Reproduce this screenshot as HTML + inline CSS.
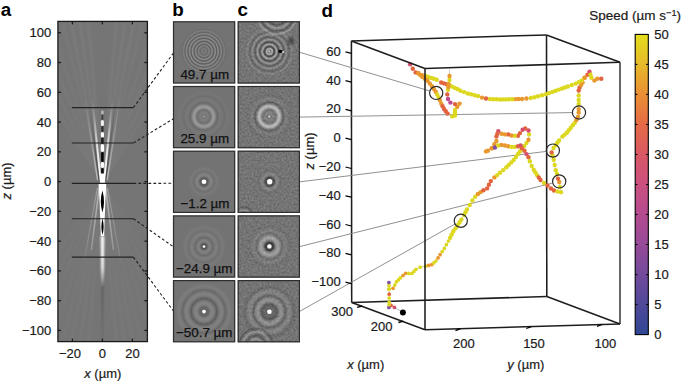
<!DOCTYPE html>
<html><head><meta charset="utf-8"><style>
html,body{margin:0;padding:0;background:#fff;width:685px;height:382px;overflow:hidden}
svg{display:block}
</style></head><body>
<svg width="685" height="382" viewBox="0 0 685 382">
<defs>
<filter id="blur1" x="-50%" y="-50%" width="200%" height="200%"><feGaussianBlur stdDeviation="0.8"/></filter>
<filter id="blur2" x="-50%" y="-50%" width="200%" height="200%"><feGaussianBlur stdDeviation="1.2"/></filter>
<filter id="blur05" x="-50%" y="-50%" width="200%" height="200%"><feGaussianBlur stdDeviation="0.5"/></filter>
<clipPath id="clipA"><rect x="57.9" y="21.4" width="89.5" height="320.2"/></clipPath>
<linearGradient id="vfade" gradientUnits="userSpaceOnUse" x1="0" y1="183" x2="0" y2="100"><stop offset="0" stop-color="#fff" stop-opacity="1"/><stop offset="0.4" stop-color="#fff" stop-opacity="0.8"/><stop offset="0.82" stop-color="#fff" stop-opacity="0.2"/><stop offset="1" stop-color="#fff" stop-opacity="0"/></linearGradient>
<linearGradient id="vfade2" gradientUnits="userSpaceOnUse" x1="0" y1="183" x2="0" y2="100"><stop offset="0" stop-color="#fff" stop-opacity="0.5"/><stop offset="1" stop-color="#fff" stop-opacity="0.03"/></linearGradient>
<linearGradient id="dfade" gradientUnits="userSpaceOnUse" x1="0" y1="183" x2="0" y2="100"><stop offset="0" stop-color="#000" stop-opacity="0.45"/><stop offset="1" stop-color="#000" stop-opacity="0.0"/></linearGradient>
<linearGradient id="dnfade" gradientUnits="userSpaceOnUse" x1="0" y1="183" x2="0" y2="300"><stop offset="0" stop-color="#fff" stop-opacity="0.5"/><stop offset="1" stop-color="#fff" stop-opacity="0.0"/></linearGradient>
<filter id="noise" x="0" y="0" width="100%" height="100%" color-interpolation-filters="sRGB"><feTurbulence type="fractalNoise" baseFrequency="0.5" numOctaves="2" seed="7"/><feGaussianBlur stdDeviation="0.45"/><feColorMatrix type="matrix" values="1 0 0 0 0  1 0 0 0 0  1 0 0 0 0  0 0 0 0 0.22"/></filter>
<filter id="tb" x="-20%" y="-20%" width="140%" height="140%"><feGaussianBlur stdDeviation="0.7"/></filter>
<filter id="tbr" x="-20%" y="-20%" width="140%" height="140%"><feGaussianBlur stdDeviation="0.9"/></filter>
<filter id="b06" x="-20%" y="-20%" width="140%" height="140%"><feGaussianBlur stdDeviation="0.62"/></filter>
<filter id="tb2" x="-20%" y="-20%" width="140%" height="140%"><feGaussianBlur stdDeviation="1.1"/></filter>
<clipPath id="ct00"><rect x="173.0" y="21.3" width="62.2" height="62.2"/></clipPath>
<clipPath id="ct01"><rect x="237.7" y="21.3" width="62.2" height="62.2"/></clipPath>
<clipPath id="ct10"><rect x="173.0" y="86.0" width="62.2" height="62.2"/></clipPath>
<clipPath id="ct11"><rect x="237.7" y="86.0" width="62.2" height="62.2"/></clipPath>
<clipPath id="ct20"><rect x="173.0" y="150.7" width="62.2" height="62.2"/></clipPath>
<clipPath id="ct21"><rect x="237.7" y="150.7" width="62.2" height="62.2"/></clipPath>
<clipPath id="ct30"><rect x="173.0" y="215.4" width="62.2" height="62.2"/></clipPath>
<clipPath id="ct31"><rect x="237.7" y="215.4" width="62.2" height="62.2"/></clipPath>
<clipPath id="ct40"><rect x="173.0" y="280.1" width="62.2" height="62.2"/></clipPath>
<clipPath id="ct41"><rect x="237.7" y="280.1" width="62.2" height="62.2"/></clipPath>
<linearGradient id="cbg" x1="0" y1="0" x2="0" y2="1"><stop offset="0" stop-color="#e4de1c"/><stop offset="0.1" stop-color="#e7b92a"/><stop offset="0.2" stop-color="#ea8f34"/><stop offset="0.3" stop-color="#e56a45"/><stop offset="0.4" stop-color="#d95865"/><stop offset="0.5" stop-color="#cc5080"/><stop offset="0.6" stop-color="#b44b8f"/><stop offset="0.7" stop-color="#974a99"/><stop offset="0.8" stop-color="#734a9c"/><stop offset="0.9" stop-color="#504999"/><stop offset="1.0" stop-color="#2f4795"/></linearGradient>
</defs>
<rect width="685" height="382" fill="#fff"/>
<g clip-path="url(#clipA)">
<rect x="57.9" y="21.4" width="89.5" height="320.2" fill="#757575"/>
<g filter="url(#blur1)"><line x1="102.4" y1="183.0" x2="87.5" y2="13.0" stroke="#fff" stroke-opacity="0.09" stroke-width="1.3"/><line x1="102.4" y1="183.0" x2="87.5" y2="353.0" stroke="#fff" stroke-opacity="0.05" stroke-width="1.3"/><line x1="102.4" y1="183.0" x2="117.3" y2="13.0" stroke="#fff" stroke-opacity="0.09" stroke-width="1.3"/><line x1="102.4" y1="183.0" x2="117.3" y2="353.0" stroke="#fff" stroke-opacity="0.05" stroke-width="1.3"/><line x1="102.4" y1="183.0" x2="78.5" y2="13.0" stroke="#fff" stroke-opacity="0.09" stroke-width="1.3"/><line x1="102.4" y1="183.0" x2="78.5" y2="353.0" stroke="#fff" stroke-opacity="0.05" stroke-width="1.3"/><line x1="102.4" y1="183.0" x2="126.3" y2="13.0" stroke="#fff" stroke-opacity="0.09" stroke-width="1.3"/><line x1="102.4" y1="183.0" x2="126.3" y2="353.0" stroke="#fff" stroke-opacity="0.05" stroke-width="1.3"/><line x1="102.4" y1="183.0" x2="69.4" y2="13.0" stroke="#fff" stroke-opacity="0.09" stroke-width="1.3"/><line x1="102.4" y1="183.0" x2="69.4" y2="353.0" stroke="#fff" stroke-opacity="0.05" stroke-width="1.3"/><line x1="102.4" y1="183.0" x2="135.4" y2="13.0" stroke="#fff" stroke-opacity="0.09" stroke-width="1.3"/><line x1="102.4" y1="183.0" x2="135.4" y2="353.0" stroke="#fff" stroke-opacity="0.05" stroke-width="1.3"/><line x1="102.4" y1="183.0" x2="60.0" y2="13.0" stroke="#fff" stroke-opacity="0.06" stroke-width="1.3"/><line x1="102.4" y1="183.0" x2="60.0" y2="353.0" stroke="#fff" stroke-opacity="0.04" stroke-width="1.3"/><line x1="102.4" y1="183.0" x2="144.8" y2="13.0" stroke="#fff" stroke-opacity="0.06" stroke-width="1.3"/><line x1="102.4" y1="183.0" x2="144.8" y2="353.0" stroke="#fff" stroke-opacity="0.04" stroke-width="1.3"/><line x1="102.4" y1="183.0" x2="47.2" y2="13.0" stroke="#fff" stroke-opacity="0.06" stroke-width="1.3"/><line x1="102.4" y1="183.0" x2="47.2" y2="353.0" stroke="#fff" stroke-opacity="0.04" stroke-width="1.3"/><line x1="102.4" y1="183.0" x2="157.6" y2="13.0" stroke="#fff" stroke-opacity="0.06" stroke-width="1.3"/><line x1="102.4" y1="183.0" x2="157.6" y2="353.0" stroke="#fff" stroke-opacity="0.04" stroke-width="1.3"/><line x1="102.4" y1="183.0" x2="33.7" y2="13.0" stroke="#fff" stroke-opacity="0.06" stroke-width="1.3"/><line x1="102.4" y1="183.0" x2="33.7" y2="353.0" stroke="#fff" stroke-opacity="0.04" stroke-width="1.3"/><line x1="102.4" y1="183.0" x2="171.1" y2="13.0" stroke="#fff" stroke-opacity="0.06" stroke-width="1.3"/><line x1="102.4" y1="183.0" x2="171.1" y2="353.0" stroke="#fff" stroke-opacity="0.04" stroke-width="1.3"/><line x1="102.4" y1="183.0" x2="15.8" y2="13.0" stroke="#fff" stroke-opacity="0.06" stroke-width="1.3"/><line x1="102.4" y1="183.0" x2="15.8" y2="353.0" stroke="#fff" stroke-opacity="0.04" stroke-width="1.3"/><line x1="102.4" y1="183.0" x2="189.0" y2="13.0" stroke="#fff" stroke-opacity="0.06" stroke-width="1.3"/><line x1="102.4" y1="183.0" x2="189.0" y2="353.0" stroke="#fff" stroke-opacity="0.04" stroke-width="1.3"/><line x1="102.4" y1="183.0" x2="-3.8" y2="13.0" stroke="#fff" stroke-opacity="0.06" stroke-width="1.3"/><line x1="102.4" y1="183.0" x2="-3.8" y2="353.0" stroke="#fff" stroke-opacity="0.04" stroke-width="1.3"/><line x1="102.4" y1="183.0" x2="208.6" y2="13.0" stroke="#fff" stroke-opacity="0.06" stroke-width="1.3"/><line x1="102.4" y1="183.0" x2="208.6" y2="353.0" stroke="#fff" stroke-opacity="0.04" stroke-width="1.3"/></g>
<line x1="102.4" y1="21" x2="102.4" y2="110" stroke="#000" stroke-opacity="0.12" stroke-width="1.2" filter="url(#blur05)"/>
<g filter="url(#blur05)">
<polyline points="100.5,180 100.1,176 99.7,172 99.3,168 98.9,164 98.5,160 98.1,156 97.7,152 97.3,148 96.9,144 96.5,140 96.1,136 95.7,132 95.3,128 94.9,124 94.5,120 94.1,116 93.7,112 93.3,108 92.9,104 92.5,100" fill="none" stroke="url(#vfade)" stroke-width="2.0"/>
<polyline points="99.0,180 98.5,176 98.0,172 97.5,168 97.0,164 96.5,160 96.0,156 95.5,152 95.0,148 94.5,144 94.0,140 93.5,136 93.0,132 92.5,128 92.0,124 91.5,120 91.0,116 90.5,112 90.0,108 89.5,104 89.0,100" fill="none" stroke="url(#dfade)" stroke-width="1.3"/>
<polyline points="97.6,180 97.0,176 96.4,172 95.7,168 95.1,164 94.5,160 93.9,156 93.3,152 92.6,148 92.0,144 91.4,140 90.8,136 90.2,132 89.5,128 88.9,124 88.3,120 87.7,116 87.1,112 86.4,108 85.8,104 85.2,100" fill="none" stroke="url(#vfade2)" stroke-width="1.5"/>
<line x1="99.4" y1="186" x2="91.4" y2="250" stroke="url(#dnfade)" stroke-width="1.6"/>
<line x1="97.4" y1="188" x2="84.4" y2="260" stroke="url(#dnfade)" stroke-width="1.2" stroke-opacity="0.6"/>
<polyline points="104.3,180 104.7,176 105.1,172 105.5,168 105.9,164 106.3,160 106.7,156 107.1,152 107.5,148 107.9,144 108.3,140 108.7,136 109.1,132 109.5,128 109.9,124 110.3,120 110.7,116 111.1,112 111.5,108 111.9,104 112.3,100" fill="none" stroke="url(#vfade)" stroke-width="2.0"/>
<polyline points="105.8,180 106.3,176 106.8,172 107.3,168 107.8,164 108.3,160 108.8,156 109.3,152 109.8,148 110.3,144 110.8,140 111.3,136 111.8,132 112.3,128 112.8,124 113.3,120 113.8,116 114.3,112 114.8,108 115.3,104 115.8,100" fill="none" stroke="url(#dfade)" stroke-width="1.3"/>
<polyline points="107.2,180 107.8,176 108.4,172 109.1,168 109.7,164 110.3,160 110.9,156 111.5,152 112.2,148 112.8,144 113.4,140 114.0,136 114.6,132 115.3,128 115.9,124 116.5,120 117.1,116 117.7,112 118.4,108 119.0,104 119.6,100" fill="none" stroke="url(#vfade2)" stroke-width="1.5"/>
<line x1="105.4" y1="186" x2="113.4" y2="250" stroke="url(#dnfade)" stroke-width="1.6"/>
<line x1="107.4" y1="188" x2="120.4" y2="260" stroke="url(#dnfade)" stroke-width="1.2" stroke-opacity="0.6"/>
</g>
<g filter="url(#blur05)">
<rect x="101.20" y="110.50" width="2.40" height="4.00" rx="1.20" fill="#fff" fill-opacity="0.50"/>
<rect x="101.45" y="114.50" width="1.90" height="5.50" rx="0.95" fill="#000" fill-opacity="0.45"/>
<rect x="100.90" y="120.00" width="3.00" height="6.00" rx="1.50" fill="#fff" fill-opacity="0.90"/>
<rect x="101.35" y="126.00" width="2.10" height="6.00" rx="1.05" fill="#000" fill-opacity="0.65"/>
<rect x="100.80" y="132.00" width="3.20" height="5.50" rx="1.60" fill="#fff" fill-opacity="1.00"/>
<rect x="101.20" y="137.50" width="2.40" height="6.50" rx="1.20" fill="#000" fill-opacity="0.80"/>
<rect x="100.70" y="144.00" width="3.40" height="8.00" rx="1.70" fill="#fff" fill-opacity="1.00"/>
<rect x="101.10" y="152.00" width="2.60" height="10.00" rx="1.30" fill="#000" fill-opacity="0.95"/>
<rect x="100.60" y="162.00" width="3.60" height="6.00" rx="1.80" fill="#fff" fill-opacity="1.00"/>
<rect x="101.15" y="168.00" width="2.50" height="7.50" rx="1.25" fill="#000" fill-opacity="0.95"/>
</g>
<g filter="url(#blur05)">
<rect x="100.1" y="173.5" width="4.8" height="10" fill="#fff"/>
<path d="M98.6 184 L106.2 184 L105.4 200 L104.6 222 L104.2 236 L100.8 236 L100.3 222 L99.5 200 Z" fill="#fff"/>
<path d="M102.4 190.5 Q105.6 201.5 102.4 212.5 Q99.2 201.5 102.4 190.5 Z" fill="#000"/>
<path d="M102.5 218.5 Q104.7 226.8 102.5 235 Q100.3 226.8 102.5 218.5 Z" fill="#000"/>
</g>
<g filter="url(#blur1)">
<path d="M100.7 236 L104.3 236 L103.8 268 L102.5 285 L101.2 268 Z" fill="#fff"/>
<path d="M101.8 286 L103.2 286 L102.6 340 L102.3 340 Z" fill="#000" fill-opacity="0.3"/>
</g>
</g>
<line x1="71.8" y1="107.6" x2="133.4" y2="107.6" stroke="#222" stroke-width="1.1"/>
<line x1="71.8" y1="143.0" x2="133.4" y2="143.0" stroke="#222" stroke-width="1.1"/>
<line x1="71.8" y1="183.4" x2="133.4" y2="183.4" stroke="#222" stroke-width="1.1"/>
<line x1="71.8" y1="218.7" x2="133.4" y2="218.7" stroke="#222" stroke-width="1.1"/>
<line x1="71.8" y1="257.1" x2="133.4" y2="257.1" stroke="#222" stroke-width="1.1"/>
<rect x="57.9" y="21.4" width="89.5" height="320.2" fill="none" stroke="#1a1a1a" stroke-width="1.3"/>
<line x1="57.9" y1="330.45" x2="60.9" y2="330.45" stroke="#1a1a1a" stroke-width="1.3"/>
<line x1="147.4" y1="330.45" x2="144.4" y2="330.45" stroke="#1a1a1a" stroke-width="1.3"/>
<text x="51.3" y="334.9" text-anchor="end" font-size="13" font-family="Liberation Sans, sans-serif" fill="#1a1a1a" stroke="#1a1a1a" stroke-width="0.2">−100</text>
<line x1="57.9" y1="300.68" x2="60.9" y2="300.68" stroke="#1a1a1a" stroke-width="1.3"/>
<line x1="147.4" y1="300.68" x2="144.4" y2="300.68" stroke="#1a1a1a" stroke-width="1.3"/>
<text x="51.3" y="305.2" text-anchor="end" font-size="13" font-family="Liberation Sans, sans-serif" fill="#1a1a1a" stroke="#1a1a1a" stroke-width="0.2">−80</text>
<line x1="57.9" y1="270.91" x2="60.9" y2="270.91" stroke="#1a1a1a" stroke-width="1.3"/>
<line x1="147.4" y1="270.91" x2="144.4" y2="270.91" stroke="#1a1a1a" stroke-width="1.3"/>
<text x="51.3" y="275.4" text-anchor="end" font-size="13" font-family="Liberation Sans, sans-serif" fill="#1a1a1a" stroke="#1a1a1a" stroke-width="0.2">−60</text>
<line x1="57.9" y1="241.14" x2="60.9" y2="241.14" stroke="#1a1a1a" stroke-width="1.3"/>
<line x1="147.4" y1="241.14" x2="144.4" y2="241.14" stroke="#1a1a1a" stroke-width="1.3"/>
<text x="51.3" y="245.6" text-anchor="end" font-size="13" font-family="Liberation Sans, sans-serif" fill="#1a1a1a" stroke="#1a1a1a" stroke-width="0.2">−40</text>
<line x1="57.9" y1="211.37" x2="60.9" y2="211.37" stroke="#1a1a1a" stroke-width="1.3"/>
<line x1="147.4" y1="211.37" x2="144.4" y2="211.37" stroke="#1a1a1a" stroke-width="1.3"/>
<text x="51.3" y="215.9" text-anchor="end" font-size="13" font-family="Liberation Sans, sans-serif" fill="#1a1a1a" stroke="#1a1a1a" stroke-width="0.2">−20</text>
<line x1="57.9" y1="181.60" x2="60.9" y2="181.60" stroke="#1a1a1a" stroke-width="1.3"/>
<line x1="147.4" y1="181.60" x2="144.4" y2="181.60" stroke="#1a1a1a" stroke-width="1.3"/>
<text x="51.3" y="186.1" text-anchor="end" font-size="13" font-family="Liberation Sans, sans-serif" fill="#1a1a1a" stroke="#1a1a1a" stroke-width="0.2">0</text>
<line x1="57.9" y1="151.83" x2="60.9" y2="151.83" stroke="#1a1a1a" stroke-width="1.3"/>
<line x1="147.4" y1="151.83" x2="144.4" y2="151.83" stroke="#1a1a1a" stroke-width="1.3"/>
<text x="51.3" y="156.3" text-anchor="end" font-size="13" font-family="Liberation Sans, sans-serif" fill="#1a1a1a" stroke="#1a1a1a" stroke-width="0.2">20</text>
<line x1="57.9" y1="122.06" x2="60.9" y2="122.06" stroke="#1a1a1a" stroke-width="1.3"/>
<line x1="147.4" y1="122.06" x2="144.4" y2="122.06" stroke="#1a1a1a" stroke-width="1.3"/>
<text x="51.3" y="126.6" text-anchor="end" font-size="13" font-family="Liberation Sans, sans-serif" fill="#1a1a1a" stroke="#1a1a1a" stroke-width="0.2">40</text>
<line x1="57.9" y1="92.29" x2="60.9" y2="92.29" stroke="#1a1a1a" stroke-width="1.3"/>
<line x1="147.4" y1="92.29" x2="144.4" y2="92.29" stroke="#1a1a1a" stroke-width="1.3"/>
<text x="51.3" y="96.8" text-anchor="end" font-size="13" font-family="Liberation Sans, sans-serif" fill="#1a1a1a" stroke="#1a1a1a" stroke-width="0.2">60</text>
<line x1="57.9" y1="62.52" x2="60.9" y2="62.52" stroke="#1a1a1a" stroke-width="1.3"/>
<line x1="147.4" y1="62.52" x2="144.4" y2="62.52" stroke="#1a1a1a" stroke-width="1.3"/>
<text x="51.3" y="67.0" text-anchor="end" font-size="13" font-family="Liberation Sans, sans-serif" fill="#1a1a1a" stroke="#1a1a1a" stroke-width="0.2">80</text>
<line x1="57.9" y1="32.75" x2="60.9" y2="32.75" stroke="#1a1a1a" stroke-width="1.3"/>
<line x1="147.4" y1="32.75" x2="144.4" y2="32.75" stroke="#1a1a1a" stroke-width="1.3"/>
<text x="51.3" y="37.2" text-anchor="end" font-size="13" font-family="Liberation Sans, sans-serif" fill="#1a1a1a" stroke="#1a1a1a" stroke-width="0.2">100</text>
<line x1="72.40" y1="21.4" x2="72.40" y2="24.4" stroke="#1a1a1a" stroke-width="1.3"/>
<line x1="72.40" y1="341.6" x2="72.40" y2="338.6" stroke="#1a1a1a" stroke-width="1.3"/>
<text x="70.0" y="357.6" text-anchor="middle" font-size="13" font-family="Liberation Sans, sans-serif" fill="#1a1a1a" stroke="#1a1a1a" stroke-width="0.2">−20</text>
<line x1="102.40" y1="21.4" x2="102.40" y2="24.4" stroke="#1a1a1a" stroke-width="1.3"/>
<line x1="102.40" y1="341.6" x2="102.40" y2="338.6" stroke="#1a1a1a" stroke-width="1.3"/>
<text x="102.4" y="357.6" text-anchor="middle" font-size="13" font-family="Liberation Sans, sans-serif" fill="#1a1a1a" stroke="#1a1a1a" stroke-width="0.2">0</text>
<line x1="132.40" y1="21.4" x2="132.40" y2="24.4" stroke="#1a1a1a" stroke-width="1.3"/>
<line x1="132.40" y1="341.6" x2="132.40" y2="338.6" stroke="#1a1a1a" stroke-width="1.3"/>
<text x="132.4" y="357.6" text-anchor="middle" font-size="13" font-family="Liberation Sans, sans-serif" fill="#1a1a1a" stroke="#1a1a1a" stroke-width="0.2">20</text>
<text x="102.8" y="378" text-anchor="middle" font-size="13" font-family="Liberation Sans, sans-serif" fill="#1a1a1a" stroke="#1a1a1a" stroke-width="0.2"><tspan font-style="italic">x</tspan> (µm)</text>
<text transform="translate(11.2,181) rotate(-90)" text-anchor="middle" font-size="13" font-family="Liberation Sans, sans-serif" fill="#1a1a1a" stroke="#1a1a1a" stroke-width="0.2"><tspan font-style="italic">z</tspan> (µm)</text>
<text x="0.8" y="16.3" font-size="18.8" font-weight="bold" font-family="Liberation Sans, sans-serif" fill="#000">a</text>
<text x="172.3" y="16.3" font-size="18.8" font-weight="bold" font-family="Liberation Sans, sans-serif" fill="#000">b</text>
<text x="237.5" y="16.3" font-size="18.8" font-weight="bold" font-family="Liberation Sans, sans-serif" fill="#000">c</text>
<text x="321.5" y="16.5" font-size="18.8" font-weight="bold" font-family="Liberation Sans, sans-serif" fill="#000">d</text>
<g clip-path="url(#ct00)">
<rect x="173.0" y="21.3" width="62.2" height="62.2" fill="#737373"/>
<g filter="url(#b06)"><circle cx="203.9" cy="51.2" r="2.4" fill="none" stroke="#fff" stroke-opacity="0.049" stroke-width="1.5"/><circle cx="203.9" cy="51.2" r="3.9" fill="none" stroke="#000" stroke-opacity="0.077" stroke-width="1.5"/><circle cx="203.9" cy="51.2" r="5.4" fill="none" stroke="#fff" stroke-opacity="0.102" stroke-width="1.5"/><circle cx="203.9" cy="51.2" r="6.9" fill="none" stroke="#000" stroke-opacity="0.124" stroke-width="1.5"/><circle cx="203.9" cy="51.2" r="8.4" fill="none" stroke="#fff" stroke-opacity="0.141" stroke-width="1.5"/><circle cx="203.9" cy="51.2" r="9.9" fill="none" stroke="#000" stroke-opacity="0.153" stroke-width="1.5"/><circle cx="203.9" cy="51.2" r="11.4" fill="none" stroke="#fff" stroke-opacity="0.159" stroke-width="1.5"/><circle cx="203.9" cy="51.2" r="12.9" fill="none" stroke="#000" stroke-opacity="0.159" stroke-width="1.5"/><circle cx="203.9" cy="51.2" r="14.4" fill="none" stroke="#fff" stroke-opacity="0.153" stroke-width="1.5"/><circle cx="203.9" cy="51.2" r="15.9" fill="none" stroke="#000" stroke-opacity="0.141" stroke-width="1.5"/><circle cx="203.9" cy="51.2" r="17.4" fill="none" stroke="#fff" stroke-opacity="0.124" stroke-width="1.5"/><circle cx="203.9" cy="51.2" r="18.9" fill="none" stroke="#000" stroke-opacity="0.102" stroke-width="1.5"/><circle cx="203.9" cy="51.2" r="20.4" fill="none" stroke="#fff" stroke-opacity="0.077" stroke-width="1.5"/><circle cx="203.9" cy="51.2" r="21.9" fill="none" stroke="#000" stroke-opacity="0.049" stroke-width="1.5"/></g>
</g>
<rect x="173.5" y="21.8" width="61.2" height="61.2" fill="none" stroke="#2e2e2e" stroke-width="1.2"/>
<g clip-path="url(#ct01)">
<rect x="237.7" y="21.3" width="62.2" height="62.2" fill="#737373"/>
<rect x="237.7" y="21.3" width="62.2" height="62.2" fill="#717171"/>
<rect x="237.7" y="21.3" width="62.2" height="62.2" filter="url(#noise)"/>
<g filter="url(#b06)"><circle cx="269.4" cy="51.5" r="2.8" fill="none" stroke="#fff" stroke-opacity="0.4" stroke-width="1.6"/><circle cx="269.4" cy="51.5" r="5.0" fill="none" stroke="#000" stroke-opacity="0.36000000000000004" stroke-width="1.6"/><circle cx="269.4" cy="51.5" r="7.3" fill="none" stroke="#fff" stroke-opacity="0.32" stroke-width="1.6"/><circle cx="269.4" cy="51.5" r="9.6" fill="none" stroke="#000" stroke-opacity="0.28" stroke-width="1.6"/><circle cx="269.4" cy="51.5" r="12.0" fill="none" stroke="#fff" stroke-opacity="0.24000000000000002" stroke-width="1.6"/><circle cx="269.4" cy="51.5" r="14.5" fill="none" stroke="#000" stroke-opacity="0.2" stroke-width="1.6"/><circle cx="269.4" cy="51.5" r="17.0" fill="none" stroke="#fff" stroke-opacity="0.16000000000000003" stroke-width="1.6"/><circle cx="269.4" cy="51.5" r="19.7" fill="none" stroke="#000" stroke-opacity="0.12" stroke-width="1.6"/><circle cx="269.4" cy="51.5" r="22.5" fill="none" stroke="#fff" stroke-opacity="0.1" stroke-width="1.6"/></g>
<g filter="url(#tb)"><circle cx="277.0" cy="14.0" r="8.0" fill="none" stroke="#fff" stroke-opacity="0.25" stroke-width="1.6"/><circle cx="277.0" cy="14.0" r="11.0" fill="none" stroke="#000" stroke-opacity="0.25" stroke-width="1.6"/><circle cx="277.0" cy="14.0" r="14.0" fill="none" stroke="#fff" stroke-opacity="0.25" stroke-width="1.6"/><circle cx="277.0" cy="14.0" r="17.0" fill="none" stroke="#000" stroke-opacity="0.25" stroke-width="1.6"/><circle cx="277.0" cy="14.0" r="20.0" fill="none" stroke="#fff" stroke-opacity="0.25" stroke-width="1.6"/></g>
<ellipse cx="280.4" cy="51.3" rx="2.3" ry="1.6" fill="#000" filter="url(#tb)"/>
<ellipse cx="283.2" cy="52" rx="1" ry="1" fill="#fff" fill-opacity="0.8"/>
<ellipse cx="291" cy="41" rx="3" ry="4" fill="#000" fill-opacity="0.35" filter="url(#tb2)"/>
<circle cx="269.4" cy="51.5" r="0.9" fill="#fff" fill-opacity="0.6" filter="url(#blur05)"/>
</g>
<rect x="238.2" y="21.8" width="61.2" height="61.2" fill="none" stroke="#2e2e2e" stroke-width="1.2"/>
<text x="180.4" y="78.6" font-size="13.4" font-family="Liberation Sans, sans-serif" fill="#111" stroke="#111" stroke-width="0.25">49.7 µm</text>
<g clip-path="url(#ct10)">
<rect x="173.0" y="86.0" width="62.2" height="62.2" fill="#737373"/>
<g filter="url(#tbr)"><circle cx="203.8" cy="116.6" r="13.5" fill="none" stroke="#000" stroke-opacity="0.12" stroke-width="3"/><circle cx="203.8" cy="116.6" r="10.0" fill="none" stroke="#fff" stroke-opacity="0.4" stroke-width="2.2"/><circle cx="203.8" cy="116.6" r="7.0" fill="none" stroke="#000" stroke-opacity="0.18" stroke-width="2"/><circle cx="203.8" cy="116.6" r="4.0" fill="none" stroke="#fff" stroke-opacity="0.18" stroke-width="1.2"/><circle cx="203.8" cy="116.6" r="17.0" fill="none" stroke="#fff" stroke-opacity="0.06" stroke-width="2"/><circle cx="203.8" cy="116.6" r="20.5" fill="none" stroke="#000" stroke-opacity="0.05" stroke-width="2"/><circle cx="203.8" cy="116.6" r="24.0" fill="none" stroke="#fff" stroke-opacity="0.04" stroke-width="2"/></g>
<circle cx="203.8" cy="116.6" r="0.8" fill="#fff" fill-opacity="0.5" filter="url(#blur05)"/>
</g>
<rect x="173.5" y="86.5" width="61.2" height="61.2" fill="none" stroke="#2e2e2e" stroke-width="1.2"/>
<g clip-path="url(#ct11)">
<rect x="237.7" y="86.0" width="62.2" height="62.2" fill="#737373"/>
<rect x="237.7" y="86.0" width="62.2" height="62.2" fill="#717171"/>
<rect x="237.7" y="86.0" width="62.2" height="62.2" filter="url(#noise)"/>
<g filter="url(#tbr)"><circle cx="269.2" cy="116.5" r="13.8" fill="none" stroke="#000" stroke-opacity="0.28" stroke-width="3.2"/><circle cx="269.2" cy="116.5" r="10.2" fill="none" stroke="#fff" stroke-opacity="0.65" stroke-width="2.6"/><circle cx="269.2" cy="116.5" r="7.0" fill="none" stroke="#000" stroke-opacity="0.25" stroke-width="2"/><circle cx="269.2" cy="116.5" r="4.0" fill="none" stroke="#fff" stroke-opacity="0.3" stroke-width="1.2"/><circle cx="269.2" cy="116.5" r="17.5" fill="none" stroke="#fff" stroke-opacity="0.1" stroke-width="2"/><circle cx="269.2" cy="116.5" r="21.0" fill="none" stroke="#000" stroke-opacity="0.08" stroke-width="2"/></g>
<circle cx="269.2" cy="116.5" r="1" fill="#fff" fill-opacity="0.7" filter="url(#blur05)"/>
</g>
<rect x="238.2" y="86.5" width="61.2" height="61.2" fill="none" stroke="#2e2e2e" stroke-width="1.2"/>
<text x="180.4" y="143.3" font-size="13.4" font-family="Liberation Sans, sans-serif" fill="#111" stroke="#111" stroke-width="0.25">25.9 µm</text>
<g clip-path="url(#ct20)">
<rect x="173.0" y="150.7" width="62.2" height="62.2" fill="#737373"/>
<g filter="url(#tbr)"><circle cx="204.0" cy="181.7" r="4.5" fill="none" stroke="#000" stroke-opacity="0.35" stroke-width="2.5"/><circle cx="204.0" cy="181.7" r="7.2" fill="none" stroke="#fff" stroke-opacity="0.18" stroke-width="1.8"/><circle cx="204.0" cy="181.7" r="10.0" fill="none" stroke="#000" stroke-opacity="0.12" stroke-width="2"/><circle cx="204.0" cy="181.7" r="13.0" fill="none" stroke="#fff" stroke-opacity="0.07" stroke-width="2"/></g>
<circle cx="204.0" cy="181.7" r="2.3" fill="#fff" fill-opacity="1" filter="url(#blur05)"/>
</g>
<rect x="173.5" y="151.2" width="61.2" height="61.2" fill="none" stroke="#2e2e2e" stroke-width="1.2"/>
<g clip-path="url(#ct21)">
<rect x="237.7" y="150.7" width="62.2" height="62.2" fill="#737373"/>
<rect x="237.7" y="150.7" width="62.2" height="62.2" fill="#717171"/>
<rect x="237.7" y="150.7" width="62.2" height="62.2" filter="url(#noise)"/>
<g filter="url(#tbr)"><circle cx="269.7" cy="181.7" r="5.0" fill="none" stroke="#000" stroke-opacity="0.65" stroke-width="2.4"/><circle cx="269.7" cy="181.7" r="7.5" fill="none" stroke="#fff" stroke-opacity="0.25" stroke-width="1.6"/><circle cx="269.7" cy="181.7" r="10.0" fill="none" stroke="#000" stroke-opacity="0.1" stroke-width="2"/></g>
<g filter="url(#tb)"><circle cx="244.0" cy="216.0" r="6.0" fill="none" stroke="#fff" stroke-opacity="0.2" stroke-width="1.6"/><circle cx="244.0" cy="216.0" r="9.0" fill="none" stroke="#000" stroke-opacity="0.2" stroke-width="1.6"/></g>
<circle cx="269.7" cy="181.7" r="2.6" fill="#fff" fill-opacity="1" filter="url(#blur05)"/>
</g>
<rect x="238.2" y="151.2" width="61.2" height="61.2" fill="none" stroke="#2e2e2e" stroke-width="1.2"/>
<text x="180.4" y="208.0" font-size="13.4" font-family="Liberation Sans, sans-serif" fill="#111" stroke="#111" stroke-width="0.25">−1.2 µm</text>
<g clip-path="url(#ct30)">
<rect x="173.0" y="215.4" width="62.2" height="62.2" fill="#737373"/>
<g filter="url(#tbr)"><circle cx="204.0" cy="246.6" r="3.0" fill="none" stroke="#000" stroke-opacity="0.5" stroke-width="2.0"/><circle cx="204.0" cy="246.6" r="5.8" fill="none" stroke="#fff" stroke-opacity="0.15" stroke-width="2"/><circle cx="204.0" cy="246.6" r="9.0" fill="none" stroke="#000" stroke-opacity="0.15" stroke-width="3"/><circle cx="204.0" cy="246.6" r="12.5" fill="none" stroke="#fff" stroke-opacity="0.1" stroke-width="2.5"/><circle cx="204.0" cy="246.6" r="15.5" fill="none" stroke="#000" stroke-opacity="0.08" stroke-width="2.5"/><circle cx="204.0" cy="246.6" r="19.0" fill="none" stroke="#fff" stroke-opacity="0.06" stroke-width="2.5"/></g>
<circle cx="204.0" cy="246.6" r="1.4" fill="#fff" fill-opacity="0.95" filter="url(#blur05)"/>
</g>
<rect x="173.5" y="215.9" width="61.2" height="61.2" fill="none" stroke="#2e2e2e" stroke-width="1.2"/>
<g clip-path="url(#ct31)">
<rect x="237.7" y="215.4" width="62.2" height="62.2" fill="#737373"/>
<rect x="237.7" y="215.4" width="62.2" height="62.2" fill="#717171"/>
<rect x="237.7" y="215.4" width="62.2" height="62.2" filter="url(#noise)"/>
<g filter="url(#tbr)"><circle cx="269.4" cy="246.4" r="4.0" fill="none" stroke="#000" stroke-opacity="0.75" stroke-width="2.4"/><circle cx="269.4" cy="246.4" r="8.8" fill="none" stroke="#fff" stroke-opacity="0.35" stroke-width="3.6"/><circle cx="269.4" cy="246.4" r="12.8" fill="none" stroke="#000" stroke-opacity="0.22" stroke-width="2.5"/><circle cx="269.4" cy="246.4" r="16.0" fill="none" stroke="#fff" stroke-opacity="0.1" stroke-width="2.5"/><circle cx="269.4" cy="246.4" r="19.5" fill="none" stroke="#000" stroke-opacity="0.07" stroke-width="2.5"/></g>
<circle cx="269.4" cy="246.4" r="2.2" fill="#fff" fill-opacity="1" filter="url(#blur05)"/>
</g>
<rect x="238.2" y="215.9" width="61.2" height="61.2" fill="none" stroke="#2e2e2e" stroke-width="1.2"/>
<text x="176.0" y="272.7" font-size="13.4" font-family="Liberation Sans, sans-serif" fill="#111" stroke="#111" stroke-width="0.25">−24.9 µm</text>
<g clip-path="url(#ct40)">
<rect x="173.0" y="280.1" width="62.2" height="62.2" fill="#737373"/>
<g filter="url(#tbr)"><circle cx="204.0" cy="311.6" r="4.5" fill="none" stroke="#000" stroke-opacity="0.2" stroke-width="2.5"/><circle cx="204.0" cy="311.6" r="8.5" fill="none" stroke="#fff" stroke-opacity="0.15" stroke-width="3"/><circle cx="204.0" cy="311.6" r="13.0" fill="none" stroke="#000" stroke-opacity="0.18" stroke-width="3.5"/><circle cx="204.0" cy="311.6" r="17.5" fill="none" stroke="#fff" stroke-opacity="0.12" stroke-width="3"/><circle cx="204.0" cy="311.6" r="21.5" fill="none" stroke="#000" stroke-opacity="0.12" stroke-width="3.5"/><circle cx="204.0" cy="311.6" r="25.5" fill="none" stroke="#fff" stroke-opacity="0.08" stroke-width="3"/></g>
<circle cx="204.0" cy="311.6" r="1.8" fill="#fff" fill-opacity="1" filter="url(#blur05)"/>
</g>
<rect x="173.5" y="280.6" width="61.2" height="61.2" fill="none" stroke="#2e2e2e" stroke-width="1.2"/>
<g clip-path="url(#ct41)">
<rect x="237.7" y="280.1" width="62.2" height="62.2" fill="#737373"/>
<rect x="237.7" y="280.1" width="62.2" height="62.2" fill="#717171"/>
<rect x="237.7" y="280.1" width="62.2" height="62.2" filter="url(#noise)"/>
<g filter="url(#tbr)"><circle cx="269.4" cy="311.7" r="4.0" fill="none" stroke="#000" stroke-opacity="0.2" stroke-width="2"/><circle cx="269.4" cy="311.7" r="8.0" fill="none" stroke="#000" stroke-opacity="0.3" stroke-width="3"/><circle cx="269.4" cy="311.7" r="12.0" fill="none" stroke="#fff" stroke-opacity="0.25" stroke-width="3"/><circle cx="269.4" cy="311.7" r="16.0" fill="none" stroke="#000" stroke-opacity="0.25" stroke-width="3"/><circle cx="269.4" cy="311.7" r="20.0" fill="none" stroke="#fff" stroke-opacity="0.15" stroke-width="3"/><circle cx="269.4" cy="311.7" r="24.0" fill="none" stroke="#000" stroke-opacity="0.12" stroke-width="3"/></g>
<g filter="url(#tb)"><circle cx="256.0" cy="345.0" r="6.0" fill="none" stroke="#fff" stroke-opacity="0.22" stroke-width="1.8"/><circle cx="256.0" cy="345.0" r="9.5" fill="none" stroke="#000" stroke-opacity="0.22" stroke-width="1.8"/><circle cx="256.0" cy="345.0" r="13.0" fill="none" stroke="#fff" stroke-opacity="0.22" stroke-width="1.8"/><circle cx="256.0" cy="345.0" r="16.5" fill="none" stroke="#000" stroke-opacity="0.22" stroke-width="1.8"/></g>
<circle cx="269.4" cy="311.7" r="2.3" fill="#fff" fill-opacity="1" filter="url(#blur05)"/>
</g>
<rect x="238.2" y="280.6" width="61.2" height="61.2" fill="none" stroke="#2e2e2e" stroke-width="1.2"/>
<text x="176.0" y="337.4" font-size="13.4" font-family="Liberation Sans, sans-serif" fill="#111" stroke="#111" stroke-width="0.25">−50.7 µm</text>
<line x1="133.4" y1="107.6" x2="173.0" y2="53.6" stroke="#222" stroke-width="1.1" stroke-dasharray="2.8 2.2"/>
<line x1="133.4" y1="143.0" x2="173.0" y2="119.0" stroke="#222" stroke-width="1.1" stroke-dasharray="2.8 2.2"/>
<line x1="133.4" y1="183.4" x2="173.0" y2="183.3" stroke="#222" stroke-width="1.1" stroke-dasharray="2.8 2.2"/>
<line x1="133.4" y1="218.7" x2="173.0" y2="246.5" stroke="#222" stroke-width="1.1" stroke-dasharray="2.8 2.2"/>
<line x1="133.4" y1="257.1" x2="173.0" y2="310.5" stroke="#222" stroke-width="1.1" stroke-dasharray="2.8 2.2"/>
<line x1="351.4" y1="40.9" x2="546.5" y2="34.9" stroke="#1e1e1e" stroke-width="1.55" />
<line x1="546.5" y1="34.9" x2="546.8" y2="296.5" stroke="#1e1e1e" stroke-width="1.55" />
<line x1="546.8" y1="296.5" x2="351.7" y2="302.5" stroke="#1e1e1e" stroke-width="1.55" />
<line x1="351.7" y1="302.5" x2="351.4" y2="40.9" stroke="#1e1e1e" stroke-width="1.55" />
<line x1="300.0" y1="52.4" x2="429.9" y2="91.0" stroke="#858585" stroke-width="0.9" /><line x1="300.0" y1="117.1" x2="572.4" y2="112.6" stroke="#858585" stroke-width="0.9" /><line x1="300.0" y1="181.8" x2="546.3" y2="151.4" stroke="#858585" stroke-width="0.9" /><line x1="300.0" y1="246.5" x2="552.8" y2="183.0" stroke="#858585" stroke-width="0.9" /><line x1="300.0" y1="311.2" x2="455.0" y2="224.0" stroke="#858585" stroke-width="0.9" />
<polyline points="394.4,307.4 391.1,305.4 388.9,307.4 389.2,302.0 389.2,298.0 389.2,294.2 389.0,289.0 389.0,285.5 388.9,282.5" fill="none" stroke="#c8c8c8" stroke-width="0.8"/><polyline points="389.0,289.0 393.1,288.3 396.4,281.8 400.3,277.9 405.6,273.3 411.9,273.5 416.0,269.3 420.2,267.2 425.5,266.2 431.7,264.7 435.9,261.0 440.1,254.7 444.3,248.4 448.5,241.0 453.3,231.3 457.8,225.1 461.4,219.6 464.2,215.0 466.9,209.5 469.7,205.0 472.4,200.4 475.2,196.7 477.9,194.0 480.7,192.1 483.4,190.3 487.1,188.4 488.9,184.8 490.8,181.1 494.4,177.4 500.0,172.8 506.4,167.3 513.7,160.0 518.0,154.0 521.9,148.8 526.5,142.9 528.5,139.7 529.1,134.4 528.5,130.5 525.2,128.5 522.6,129.8 520.0,133.1 518.0,135.7 514.7,135.7 511.4,135.5 508.2,134.4 504.9,134.4 501.6,133.8 498.3,131.1 496.4,136.4 496.4,141.0 494.4,144.2 491.8,148.2 487.9,150.8 485.9,151.4" fill="none" stroke="#c8c8c8" stroke-width="0.8"/><polyline points="491.8,148.2 495.0,147.5 498.3,145.5 501.6,144.9 504.9,145.5 508.2,146.2 511.4,146.9 514.7,146.9 518.0,146.2 520.6,145.5 521.9,148.2 524.5,150.8 526.5,154.1 528.5,157.3 529.8,161.3 531.7,165.9 533.7,169.8 537.0,175.0 540.5,180.0 544.0,183.0 547.5,185.5 551.0,188.5 554.0,190.5 557.5,191.5 561.0,192.2 560.0,187.0 559.2,182.0 558.0,178.6 557.0,174.0 555.8,170.2 554.7,165.0 553.7,159.8 552.5,155.5 551.6,152.4 553.5,148.0 555.8,145.0 559.0,140.5 562.5,136.5 566.9,132.7 570.8,127.8 574.7,122.9 578.0,117.0 578.7,112.5 578.7,109.1 578.7,104.0 578.7,100.0 578.7,95.4 578.7,90.5 579.6,87.5 582.6,82.6 584.6,77.7 587.5,74.7 589.5,71.8 591.4,77.7 594.4,80.6 597.3,78.7 601.3,78.7" fill="none" stroke="#c8c8c8" stroke-width="0.8"/><polyline points="584.6,77.7 581.6,80.6 575.7,83.6 567.9,86.5 562.0,88.5 546.0,94.2 538.0,96.3 530.8,98.0 522.0,99.0 518.5,99.0 509.0,99.3 500.0,99.5 490.0,99.0 486.0,98.5 482.0,97.6 478.0,96.0 467.8,93.5 460.5,90.7 455.0,88.0 449.5,85.2 444.0,83.4 441.2,82.5 436.7,79.7 431.2,77.9 425.7,76.0 422.0,75.2 418.3,73.3 415.6,72.4 412.8,68.7 410.1,64.2" fill="none" stroke="#c8c8c8" stroke-width="0.8"/><polyline points="418.3,73.3 422.5,77.0 427.5,80.7 432.0,86.2 435.7,91.7 438.5,97.1 441.2,103.6 444.0,109.0 447.6,113.6 452.2,116.4 455.0,115.5 455.0,110.0 459.6,103.6 455.0,104.1 450.4,102.6 448.0,99.0 447.3,94.4 448.0,89.8 448.6,84.3 449.5,80.0 449.5,76.0" fill="none" stroke="#c8c8c8" stroke-width="0.8"/><line x1="402.9" y1="312.4" x2="394.4" y2="307.4" stroke="#b8b8c8" stroke-width="1.0" /><line x1="449.5" y1="76.0" x2="449.5" y2="69.5" stroke="#d8c8c8" stroke-width="1.0" /><circle cx="394.4" cy="307.4" r="1.85" fill="#d6506e"/><circle cx="391.1" cy="305.4" r="1.85" fill="#e2643f"/><circle cx="388.9" cy="307.4" r="1.85" fill="#7f4fa3"/><circle cx="389.0" cy="304.7" r="1.85" fill="#dcd820"/><circle cx="389.2" cy="302.0" r="1.85" fill="#dcd820"/><circle cx="389.2" cy="298.0" r="1.85" fill="#dcd820"/><circle cx="389.2" cy="294.2" r="1.85" fill="#e2643f"/><circle cx="389.0" cy="289.0" r="1.85" fill="#dcd820"/><circle cx="389.0" cy="285.5" r="1.85" fill="#dcd820"/><circle cx="388.9" cy="282.5" r="1.85" fill="#7f4fa3"/><circle cx="389.0" cy="289.0" r="1.85" fill="#dcd820"/><circle cx="393.1" cy="288.3" r="1.85" fill="#e8982c"/><circle cx="394.8" cy="285.1" r="1.85" fill="#dcd820"/><circle cx="396.4" cy="281.8" r="1.85" fill="#dcd820"/><circle cx="398.4" cy="279.9" r="1.85" fill="#dcd820"/><circle cx="400.3" cy="277.9" r="1.85" fill="#dcd820"/><circle cx="403.0" cy="275.6" r="1.85" fill="#e8982c"/><circle cx="405.6" cy="273.3" r="1.85" fill="#e8982c"/><circle cx="408.8" cy="273.4" r="1.85" fill="#dcd820"/><circle cx="411.9" cy="273.5" r="1.85" fill="#dcd820"/><circle cx="413.9" cy="271.4" r="1.85" fill="#dcd820"/><circle cx="416.0" cy="269.3" r="1.85" fill="#dcd820"/><circle cx="420.2" cy="267.2" r="1.85" fill="#dcd820"/><circle cx="425.5" cy="266.2" r="1.85" fill="#dcd820"/><circle cx="428.6" cy="265.4" r="1.85" fill="#e8982c"/><circle cx="431.7" cy="264.7" r="1.85" fill="#e8982c"/><circle cx="433.8" cy="262.9" r="1.85" fill="#dcd820"/><circle cx="435.9" cy="261.0" r="1.85" fill="#dcd820"/><circle cx="438.0" cy="257.9" r="1.85" fill="#e8982c"/><circle cx="440.1" cy="254.7" r="1.85" fill="#e8982c"/><circle cx="442.2" cy="251.6" r="1.85" fill="#dcd820"/><circle cx="444.3" cy="248.4" r="1.85" fill="#dcd820"/><circle cx="446.4" cy="244.7" r="1.85" fill="#dcd820"/><circle cx="448.5" cy="241.0" r="1.85" fill="#dcd820"/><circle cx="450.1" cy="237.8" r="2.2" fill="#dcd820"/><circle cx="451.7" cy="234.5" r="2.2" fill="#dcd820"/><circle cx="453.3" cy="231.3" r="2.2" fill="#dcd820"/><circle cx="455.6" cy="228.2" r="2.2" fill="#dcd820"/><circle cx="457.8" cy="225.1" r="2.2" fill="#dcd820"/><circle cx="459.6" cy="222.3" r="2.2" fill="#dcd820"/><circle cx="461.4" cy="219.6" r="2.2" fill="#dcd820"/><circle cx="464.2" cy="215.0" r="2.2" fill="#dcd820"/><circle cx="465.5" cy="212.2" r="2.2" fill="#dcd820"/><circle cx="466.9" cy="209.5" r="2.2" fill="#dcd820"/><circle cx="469.7" cy="205.0" r="2.2" fill="#dcd820"/><circle cx="472.4" cy="200.4" r="2.2" fill="#dcd820"/><circle cx="475.2" cy="196.7" r="2.2" fill="#dcd820"/><circle cx="477.9" cy="194.0" r="2.2" fill="#e8982c"/><circle cx="480.7" cy="192.1" r="2.2" fill="#e8982c"/><circle cx="483.4" cy="190.3" r="2.2" fill="#e2643f"/><circle cx="487.1" cy="188.4" r="2.2" fill="#e2643f"/><circle cx="488.9" cy="184.8" r="2.2" fill="#e2643f"/><circle cx="490.8" cy="181.1" r="2.2" fill="#e2643f"/><circle cx="494.4" cy="177.4" r="2.2" fill="#e8982c"/><circle cx="497.2" cy="175.1" r="2.2" fill="#dcd820"/><circle cx="500.0" cy="172.8" r="2.2" fill="#dcd820"/><circle cx="503.2" cy="170.1" r="2.2" fill="#dcd820"/><circle cx="506.4" cy="167.3" r="2.2" fill="#dcd820"/><circle cx="508.8" cy="164.9" r="2.2" fill="#dcd820"/><circle cx="511.3" cy="162.4" r="2.2" fill="#dcd820"/><circle cx="513.7" cy="160.0" r="2.2" fill="#dcd820"/><circle cx="515.9" cy="157.0" r="2.2" fill="#dcd820"/><circle cx="518.0" cy="154.0" r="2.2" fill="#dcd820"/><circle cx="520.0" cy="151.4" r="2.2" fill="#dcd820"/><circle cx="521.9" cy="148.8" r="2.2" fill="#dcd820"/><circle cx="524.2" cy="145.9" r="2.2" fill="#dcd820"/><circle cx="526.5" cy="142.9" r="2.2" fill="#dcd820"/><circle cx="528.5" cy="139.7" r="2.2" fill="#e8982c"/><circle cx="529.1" cy="134.4" r="2.2" fill="#dcd820"/><circle cx="528.5" cy="130.5" r="2.2" fill="#d6506e"/><circle cx="525.2" cy="128.5" r="2.2" fill="#e2643f"/><circle cx="522.6" cy="129.8" r="2.2" fill="#d6506e"/><circle cx="520.0" cy="133.1" r="2.2" fill="#e2643f"/><circle cx="518.0" cy="135.7" r="2.2" fill="#e2643f"/><circle cx="514.7" cy="135.7" r="2.2" fill="#dcd820"/><circle cx="511.4" cy="135.5" r="2.2" fill="#e8982c"/><circle cx="508.2" cy="134.4" r="2.2" fill="#e2643f"/><circle cx="504.9" cy="134.4" r="2.2" fill="#e8982c"/><circle cx="501.6" cy="133.8" r="2.2" fill="#e8982c"/><circle cx="498.3" cy="131.1" r="2.2" fill="#d6506e"/><circle cx="497.4" cy="133.8" r="2.2" fill="#e2643f"/><circle cx="496.4" cy="136.4" r="2.2" fill="#e2643f"/><circle cx="496.4" cy="141.0" r="2.2" fill="#e8982c"/><circle cx="494.4" cy="144.2" r="2.2" fill="#e8982c"/><circle cx="491.8" cy="148.2" r="2.2" fill="#e8982c"/><circle cx="487.9" cy="150.8" r="2.2" fill="#e8982c"/><circle cx="485.9" cy="151.4" r="2.2" fill="#e8982c"/><circle cx="491.8" cy="148.2" r="2.2" fill="#e8982c"/><circle cx="495.0" cy="147.5" r="2.2" fill="#7f4fa3"/><circle cx="498.3" cy="145.5" r="2.2" fill="#dcd820"/><circle cx="501.6" cy="144.9" r="2.2" fill="#e8982c"/><circle cx="504.9" cy="145.5" r="2.2" fill="#e8982c"/><circle cx="508.2" cy="146.2" r="2.2" fill="#e8982c"/><circle cx="511.4" cy="146.9" r="2.2" fill="#dcd820"/><circle cx="514.7" cy="146.9" r="2.2" fill="#dcd820"/><circle cx="518.0" cy="146.2" r="2.2" fill="#e2643f"/><circle cx="520.6" cy="145.5" r="2.2" fill="#d6506e"/><circle cx="521.9" cy="148.2" r="2.2" fill="#e2643f"/><circle cx="524.5" cy="150.8" r="2.2" fill="#e2643f"/><circle cx="526.5" cy="154.1" r="2.2" fill="#d6506e"/><circle cx="528.5" cy="157.3" r="2.2" fill="#e2643f"/><circle cx="529.8" cy="161.3" r="2.2" fill="#dcd820"/><circle cx="531.7" cy="165.9" r="2.2" fill="#dcd820"/><circle cx="533.7" cy="169.8" r="2.2" fill="#dcd820"/><circle cx="535.4" cy="172.4" r="2.2" fill="#dcd820"/><circle cx="537.0" cy="175.0" r="2.2" fill="#dcd820"/><circle cx="538.8" cy="177.5" r="2.2" fill="#e2643f"/><circle cx="540.5" cy="180.0" r="2.2" fill="#e2643f"/><circle cx="544.0" cy="183.0" r="2.2" fill="#dcd820"/><circle cx="547.5" cy="185.5" r="2.2" fill="#e2643f"/><circle cx="551.0" cy="188.5" r="2.2" fill="#e2643f"/><circle cx="554.0" cy="190.5" r="2.2" fill="#e2643f"/><circle cx="557.5" cy="191.5" r="2.2" fill="#dcd820"/><circle cx="561.0" cy="192.2" r="2.2" fill="#dcd820"/><circle cx="560.0" cy="187.0" r="2.2" fill="#dcd820"/><circle cx="559.2" cy="182.0" r="2.2" fill="#e8982c"/><circle cx="558.0" cy="178.6" r="2.2" fill="#e2643f"/><circle cx="557.0" cy="174.0" r="2.2" fill="#dcd820"/><circle cx="555.8" cy="170.2" r="2.2" fill="#dcd820"/><circle cx="554.7" cy="165.0" r="2.2" fill="#dcd820"/><circle cx="553.7" cy="159.8" r="2.2" fill="#dcd820"/><circle cx="552.5" cy="155.5" r="2.2" fill="#dcd820"/><circle cx="551.6" cy="152.4" r="2.2" fill="#e2643f"/><circle cx="553.5" cy="148.0" r="2.2" fill="#dcd820"/><circle cx="555.8" cy="145.0" r="2.2" fill="#dcd820"/><circle cx="557.4" cy="142.8" r="2.2" fill="#dcd820"/><circle cx="559.0" cy="140.5" r="2.2" fill="#dcd820"/><circle cx="562.5" cy="136.5" r="2.2" fill="#dcd820"/><circle cx="564.7" cy="134.6" r="2.2" fill="#dcd820"/><circle cx="566.9" cy="132.7" r="2.2" fill="#dcd820"/><circle cx="568.8" cy="130.2" r="2.2" fill="#dcd820"/><circle cx="570.8" cy="127.8" r="2.2" fill="#dcd820"/><circle cx="572.8" cy="125.3" r="2.2" fill="#dcd820"/><circle cx="574.7" cy="122.9" r="2.2" fill="#dcd820"/><circle cx="576.4" cy="120.0" r="2.2" fill="#e8982c"/><circle cx="578.0" cy="117.0" r="2.2" fill="#e8982c"/><circle cx="578.7" cy="112.5" r="2.2" fill="#e8982c"/><circle cx="578.7" cy="109.1" r="2.2" fill="#e8982c"/><circle cx="578.7" cy="104.0" r="2.2" fill="#dcd820"/><circle cx="578.7" cy="100.0" r="2.2" fill="#dcd820"/><circle cx="578.7" cy="95.4" r="2.2" fill="#dcd820"/><circle cx="578.7" cy="90.5" r="2.2" fill="#e2643f"/><circle cx="579.6" cy="87.5" r="2.2" fill="#e2643f"/><circle cx="581.1" cy="85.0" r="2.2" fill="#e8982c"/><circle cx="582.6" cy="82.6" r="2.2" fill="#e8982c"/><circle cx="584.6" cy="77.7" r="2.2" fill="#e8982c"/><circle cx="587.5" cy="74.7" r="2.2" fill="#e2643f"/><circle cx="589.5" cy="71.8" r="2.2" fill="#d6506e"/><circle cx="590.5" cy="74.8" r="2.2" fill="#dcd820"/><circle cx="591.4" cy="77.7" r="2.2" fill="#dcd820"/><circle cx="594.4" cy="80.6" r="2.2" fill="#e8982c"/><circle cx="597.3" cy="78.7" r="2.2" fill="#e8982c"/><circle cx="601.3" cy="78.7" r="2.2" fill="#e2643f"/><circle cx="584.6" cy="77.7" r="2.2" fill="#e8982c"/><circle cx="581.6" cy="80.6" r="2.2" fill="#dcd820"/><circle cx="578.7" cy="82.1" r="2.2" fill="#dcd820"/><circle cx="575.7" cy="83.6" r="2.2" fill="#dcd820"/><circle cx="571.8" cy="85.0" r="2.2" fill="#dcd820"/><circle cx="567.9" cy="86.5" r="2.2" fill="#dcd820"/><circle cx="565.0" cy="87.5" r="2.2" fill="#dcd820"/><circle cx="562.0" cy="88.5" r="2.2" fill="#dcd820"/><circle cx="558.8" cy="89.6" r="2.2" fill="#dcd820"/><circle cx="555.6" cy="90.8" r="2.2" fill="#dcd820"/><circle cx="552.4" cy="91.9" r="2.2" fill="#dcd820"/><circle cx="549.2" cy="93.1" r="2.2" fill="#dcd820"/><circle cx="546.0" cy="94.2" r="2.2" fill="#dcd820"/><circle cx="542.0" cy="95.2" r="2.2" fill="#dcd820"/><circle cx="538.0" cy="96.3" r="2.2" fill="#dcd820"/><circle cx="534.4" cy="97.2" r="2.2" fill="#dcd820"/><circle cx="530.8" cy="98.0" r="2.2" fill="#dcd820"/><circle cx="526.4" cy="98.5" r="2.2" fill="#e8982c"/><circle cx="522.0" cy="99.0" r="2.2" fill="#e8982c"/><circle cx="518.5" cy="99.0" r="2.2" fill="#e8982c"/><circle cx="515.3" cy="99.1" r="2.2" fill="#e8982c"/><circle cx="512.2" cy="99.2" r="2.2" fill="#dcd820"/><circle cx="509.0" cy="99.3" r="2.2" fill="#dcd820"/><circle cx="506.0" cy="99.4" r="2.2" fill="#dcd820"/><circle cx="503.0" cy="99.4" r="2.2" fill="#dcd820"/><circle cx="500.0" cy="99.5" r="2.2" fill="#dcd820"/><circle cx="496.7" cy="99.3" r="2.2" fill="#dcd820"/><circle cx="493.3" cy="99.2" r="2.2" fill="#dcd820"/><circle cx="490.0" cy="99.0" r="2.2" fill="#dcd820"/><circle cx="486.0" cy="98.5" r="2.2" fill="#e2643f"/><circle cx="482.0" cy="97.6" r="2.2" fill="#e8982c"/><circle cx="478.0" cy="96.0" r="2.2" fill="#dcd820"/><circle cx="474.6" cy="95.2" r="2.2" fill="#dcd820"/><circle cx="471.2" cy="94.3" r="2.2" fill="#dcd820"/><circle cx="467.8" cy="93.5" r="2.2" fill="#dcd820"/><circle cx="464.1" cy="92.1" r="2.2" fill="#dcd820"/><circle cx="460.5" cy="90.7" r="2.2" fill="#dcd820"/><circle cx="457.8" cy="89.3" r="2.2" fill="#dcd820"/><circle cx="455.0" cy="88.0" r="2.2" fill="#dcd820"/><circle cx="452.2" cy="86.6" r="2.2" fill="#dcd820"/><circle cx="449.5" cy="85.2" r="2.2" fill="#dcd820"/><circle cx="446.8" cy="84.3" r="2.2" fill="#e2643f"/><circle cx="444.0" cy="83.4" r="2.2" fill="#e2643f"/><circle cx="441.2" cy="82.5" r="2.2" fill="#e2643f"/><circle cx="436.7" cy="79.7" r="2.2" fill="#dcd820"/><circle cx="433.9" cy="78.8" r="2.2" fill="#dcd820"/><circle cx="431.2" cy="77.9" r="2.2" fill="#dcd820"/><circle cx="428.4" cy="77.0" r="2.2" fill="#dcd820"/><circle cx="425.7" cy="76.0" r="2.2" fill="#dcd820"/><circle cx="422.0" cy="75.2" r="2.2" fill="#e8982c"/><circle cx="418.3" cy="73.3" r="2.2" fill="#e2643f"/><circle cx="415.6" cy="72.4" r="2.2" fill="#e2643f"/><circle cx="412.8" cy="68.7" r="2.2" fill="#e2643f"/><circle cx="410.1" cy="64.2" r="2.2" fill="#d6506e"/><circle cx="418.3" cy="73.3" r="2.2" fill="#e8982c"/><circle cx="420.4" cy="75.2" r="2.2" fill="#e8982c"/><circle cx="422.5" cy="77.0" r="2.2" fill="#e8982c"/><circle cx="425.0" cy="78.8" r="2.2" fill="#e8982c"/><circle cx="427.5" cy="80.7" r="2.2" fill="#e8982c"/><circle cx="429.8" cy="83.5" r="2.2" fill="#e8982c"/><circle cx="432.0" cy="86.2" r="2.2" fill="#e8982c"/><circle cx="433.9" cy="89.0" r="2.2" fill="#e8982c"/><circle cx="435.7" cy="91.7" r="2.2" fill="#e8982c"/><circle cx="437.1" cy="94.4" r="2.2" fill="#dcd820"/><circle cx="438.5" cy="97.1" r="2.2" fill="#dcd820"/><circle cx="439.9" cy="100.3" r="2.2" fill="#e8982c"/><circle cx="441.2" cy="103.6" r="2.2" fill="#e8982c"/><circle cx="442.6" cy="106.3" r="2.2" fill="#e2643f"/><circle cx="444.0" cy="109.0" r="2.2" fill="#e2643f"/><circle cx="445.8" cy="111.3" r="2.2" fill="#e2643f"/><circle cx="447.6" cy="113.6" r="2.2" fill="#e2643f"/><circle cx="452.2" cy="116.4" r="2.2" fill="#dcd820"/><circle cx="455.0" cy="115.5" r="2.2" fill="#dcd820"/><circle cx="455.0" cy="112.8" r="2.2" fill="#dcd820"/><circle cx="455.0" cy="110.0" r="2.2" fill="#dcd820"/><circle cx="457.3" cy="106.8" r="2.2" fill="#e8982c"/><circle cx="459.6" cy="103.6" r="2.2" fill="#e8982c"/><circle cx="455.0" cy="104.1" r="2.2" fill="#e2643f"/><circle cx="450.4" cy="102.6" r="2.2" fill="#bf4a92"/><circle cx="448.0" cy="99.0" r="2.2" fill="#bf4a92"/><circle cx="447.3" cy="94.4" r="2.2" fill="#e2643f"/><circle cx="448.0" cy="89.8" r="2.2" fill="#dcd820"/><circle cx="448.3" cy="87.0" r="2.2" fill="#e8982c"/><circle cx="448.6" cy="84.3" r="2.2" fill="#e8982c"/><circle cx="449.5" cy="80.0" r="2.2" fill="#dcd820"/><circle cx="449.5" cy="76.0" r="2.2" fill="#e8982c"/><circle cx="402.9" cy="312.4" r="3.0" fill="#000"/>
<line x1="425.0" y1="68.5" x2="620.0" y2="62.3" stroke="#1e1e1e" stroke-width="1.55" />
<line x1="620.0" y1="62.3" x2="620.0" y2="323.9" stroke="#3a3a3a" stroke-width="1.55" />
<line x1="620.0" y1="323.9" x2="425.0" y2="329.8" stroke="#1e1e1e" stroke-width="1.55" />
<line x1="425.0" y1="329.8" x2="425.0" y2="68.5" stroke="#1e1e1e" stroke-width="1.55" />
<line x1="351.4" y1="40.9" x2="425.0" y2="68.5" stroke="#1e1e1e" stroke-width="1.55" />
<line x1="546.5" y1="34.9" x2="620.0" y2="62.3" stroke="#1e1e1e" stroke-width="1.55" />
<line x1="546.8" y1="296.5" x2="620.0" y2="323.9" stroke="#1e1e1e" stroke-width="1.55" />
<line x1="351.7" y1="302.5" x2="425.0" y2="329.8" stroke="#1e1e1e" stroke-width="1.55" />
<circle cx="436.2" cy="92.9" r="6.6" fill="none" stroke="#2a2a2a" stroke-width="1.2"/>
<circle cx="579.0" cy="112.5" r="6.6" fill="none" stroke="#2a2a2a" stroke-width="1.2"/>
<circle cx="552.9" cy="150.6" r="6.6" fill="none" stroke="#2a2a2a" stroke-width="1.2"/>
<circle cx="559.2" cy="181.4" r="6.6" fill="none" stroke="#2a2a2a" stroke-width="1.2"/>
<circle cx="460.8" cy="220.8" r="6.6" fill="none" stroke="#2a2a2a" stroke-width="1.2"/>
<line x1="345.5" y1="51.8" x2="351.4" y2="53.3" stroke="#000" stroke-width="1.2" />
<text x="340.8" y="55.8" text-anchor="end" font-size="13" font-family="Liberation Sans, sans-serif" fill="#1a1a1a" stroke="#1a1a1a" stroke-width="0.2">60</text>
<line x1="345.5" y1="80.6" x2="351.4" y2="82.1" stroke="#000" stroke-width="1.2" />
<text x="340.8" y="84.6" text-anchor="end" font-size="13" font-family="Liberation Sans, sans-serif" fill="#1a1a1a" stroke="#1a1a1a" stroke-width="0.2">40</text>
<line x1="345.5" y1="109.4" x2="351.4" y2="110.9" stroke="#000" stroke-width="1.2" />
<text x="340.8" y="113.4" text-anchor="end" font-size="13" font-family="Liberation Sans, sans-serif" fill="#1a1a1a" stroke="#1a1a1a" stroke-width="0.2">20</text>
<line x1="345.5" y1="138.2" x2="351.4" y2="139.7" stroke="#000" stroke-width="1.2" />
<text x="340.8" y="142.2" text-anchor="end" font-size="13" font-family="Liberation Sans, sans-serif" fill="#1a1a1a" stroke="#1a1a1a" stroke-width="0.2">0</text>
<line x1="345.5" y1="167.0" x2="351.4" y2="168.5" stroke="#000" stroke-width="1.2" />
<text x="340.8" y="171.0" text-anchor="end" font-size="13" font-family="Liberation Sans, sans-serif" fill="#1a1a1a" stroke="#1a1a1a" stroke-width="0.2">−20</text>
<line x1="345.5" y1="195.8" x2="351.4" y2="197.2" stroke="#000" stroke-width="1.2" />
<text x="340.8" y="199.8" text-anchor="end" font-size="13" font-family="Liberation Sans, sans-serif" fill="#1a1a1a" stroke="#1a1a1a" stroke-width="0.2">−40</text>
<line x1="345.5" y1="224.5" x2="351.4" y2="226.0" stroke="#000" stroke-width="1.2" />
<text x="340.8" y="228.5" text-anchor="end" font-size="13" font-family="Liberation Sans, sans-serif" fill="#1a1a1a" stroke="#1a1a1a" stroke-width="0.2">−60</text>
<line x1="345.5" y1="253.3" x2="351.4" y2="254.8" stroke="#000" stroke-width="1.2" />
<text x="340.8" y="257.3" text-anchor="end" font-size="13" font-family="Liberation Sans, sans-serif" fill="#1a1a1a" stroke="#1a1a1a" stroke-width="0.2">−80</text>
<line x1="345.5" y1="282.1" x2="351.4" y2="283.6" stroke="#000" stroke-width="1.2" />
<text x="340.8" y="286.1" text-anchor="end" font-size="13" font-family="Liberation Sans, sans-serif" fill="#1a1a1a" stroke="#1a1a1a" stroke-width="0.2">−100</text>
<text transform="translate(313.6,151) rotate(-90)" text-anchor="middle" font-size="13" font-family="Liberation Sans, sans-serif" fill="#1a1a1a" stroke="#1a1a1a" stroke-width="0.2"><tspan font-style="italic">z</tspan> (µm)</text>
<line x1="357.1" y1="307.3" x2="362.1" y2="306.0" stroke="#000" stroke-width="1.3" />
<text x="342.2" y="316.2" text-anchor="middle" font-size="13" font-family="Liberation Sans, sans-serif" fill="#1a1a1a" stroke="#1a1a1a" stroke-width="0.2">300</text>
<line x1="398.4" y1="322.5" x2="403.4" y2="321.2" stroke="#000" stroke-width="1.3" />
<text x="381.7" y="330.6" text-anchor="middle" font-size="13" font-family="Liberation Sans, sans-serif" fill="#1a1a1a" stroke="#1a1a1a" stroke-width="0.2">200</text>
<text x="365.7" y="368.8" text-anchor="middle" font-size="13" font-family="Liberation Sans, sans-serif" fill="#1a1a1a" stroke="#1a1a1a" stroke-width="0.2"><tspan font-style="italic">x</tspan> (µm)</text>
<line x1="455.5" y1="330.6" x2="460.5" y2="328.7" stroke="#000" stroke-width="1.3" />
<text x="463.9" y="347.6" text-anchor="middle" font-size="13" font-family="Liberation Sans, sans-serif" fill="#1a1a1a" stroke="#1a1a1a" stroke-width="0.2">200</text>
<line x1="526.3" y1="328.5" x2="531.3" y2="326.6" stroke="#000" stroke-width="1.3" />
<text x="534.0" y="347.6" text-anchor="middle" font-size="13" font-family="Liberation Sans, sans-serif" fill="#1a1a1a" stroke="#1a1a1a" stroke-width="0.2">150</text>
<line x1="597.0" y1="326.3" x2="602.0" y2="324.4" stroke="#000" stroke-width="1.3" />
<text x="605.3" y="347.6" text-anchor="middle" font-size="13" font-family="Liberation Sans, sans-serif" fill="#1a1a1a" stroke="#1a1a1a" stroke-width="0.2">100</text>
<text x="525.8" y="369.2" text-anchor="middle" font-size="13" font-family="Liberation Sans, sans-serif" fill="#1a1a1a" stroke="#1a1a1a" stroke-width="0.2"><tspan font-style="italic">y</tspan> (µm)</text>
<rect x="635.2" y="34.4" width="13.1" height="300.2" fill="url(#cbg)" stroke="#000" stroke-width="1.1"/>
<text x="654.3" y="38.8" font-size="13" font-family="Liberation Sans, sans-serif" fill="#1a1a1a" stroke="#1a1a1a" stroke-width="0.2">50</text>
<line x1="635.2" y1="64.4" x2="637.4" y2="64.4" stroke="#000" stroke-width="1.1" />
<line x1="648.3" y1="64.4" x2="646.1" y2="64.4" stroke="#000" stroke-width="1.1" />
<text x="654.3" y="68.8" font-size="13" font-family="Liberation Sans, sans-serif" fill="#1a1a1a" stroke="#1a1a1a" stroke-width="0.2">45</text>
<line x1="635.2" y1="94.4" x2="637.4" y2="94.4" stroke="#000" stroke-width="1.1" />
<line x1="648.3" y1="94.4" x2="646.1" y2="94.4" stroke="#000" stroke-width="1.1" />
<text x="654.3" y="98.8" font-size="13" font-family="Liberation Sans, sans-serif" fill="#1a1a1a" stroke="#1a1a1a" stroke-width="0.2">40</text>
<line x1="635.2" y1="124.5" x2="637.4" y2="124.5" stroke="#000" stroke-width="1.1" />
<line x1="648.3" y1="124.5" x2="646.1" y2="124.5" stroke="#000" stroke-width="1.1" />
<text x="654.3" y="128.9" font-size="13" font-family="Liberation Sans, sans-serif" fill="#1a1a1a" stroke="#1a1a1a" stroke-width="0.2">35</text>
<line x1="635.2" y1="154.5" x2="637.4" y2="154.5" stroke="#000" stroke-width="1.1" />
<line x1="648.3" y1="154.5" x2="646.1" y2="154.5" stroke="#000" stroke-width="1.1" />
<text x="654.3" y="158.9" font-size="13" font-family="Liberation Sans, sans-serif" fill="#1a1a1a" stroke="#1a1a1a" stroke-width="0.2">30</text>
<line x1="635.2" y1="184.5" x2="637.4" y2="184.5" stroke="#000" stroke-width="1.1" />
<line x1="648.3" y1="184.5" x2="646.1" y2="184.5" stroke="#000" stroke-width="1.1" />
<text x="654.3" y="188.9" font-size="13" font-family="Liberation Sans, sans-serif" fill="#1a1a1a" stroke="#1a1a1a" stroke-width="0.2">25</text>
<line x1="635.2" y1="214.5" x2="637.4" y2="214.5" stroke="#000" stroke-width="1.1" />
<line x1="648.3" y1="214.5" x2="646.1" y2="214.5" stroke="#000" stroke-width="1.1" />
<text x="654.3" y="218.9" font-size="13" font-family="Liberation Sans, sans-serif" fill="#1a1a1a" stroke="#1a1a1a" stroke-width="0.2">20</text>
<line x1="635.2" y1="244.5" x2="637.4" y2="244.5" stroke="#000" stroke-width="1.1" />
<line x1="648.3" y1="244.5" x2="646.1" y2="244.5" stroke="#000" stroke-width="1.1" />
<text x="654.3" y="248.9" font-size="13" font-family="Liberation Sans, sans-serif" fill="#1a1a1a" stroke="#1a1a1a" stroke-width="0.2">15</text>
<line x1="635.2" y1="274.6" x2="637.4" y2="274.6" stroke="#000" stroke-width="1.1" />
<line x1="648.3" y1="274.6" x2="646.1" y2="274.6" stroke="#000" stroke-width="1.1" />
<text x="654.3" y="279.0" font-size="13" font-family="Liberation Sans, sans-serif" fill="#1a1a1a" stroke="#1a1a1a" stroke-width="0.2">10</text>
<line x1="635.2" y1="304.6" x2="637.4" y2="304.6" stroke="#000" stroke-width="1.1" />
<line x1="648.3" y1="304.6" x2="646.1" y2="304.6" stroke="#000" stroke-width="1.1" />
<text x="654.3" y="309.0" font-size="13" font-family="Liberation Sans, sans-serif" fill="#1a1a1a" stroke="#1a1a1a" stroke-width="0.2">5</text>
<text x="654.3" y="339.0" font-size="13" font-family="Liberation Sans, sans-serif" fill="#1a1a1a" stroke="#1a1a1a" stroke-width="0.2">0</text>
<text x="589.3" y="20.4" font-size="13.5" font-family="Liberation Sans, sans-serif" fill="#1a1a1a" stroke="#1a1a1a" stroke-width="0.2">Speed (µm s<tspan font-size="9.2" dy="-4.8">−1</tspan><tspan dy="4.8">)</tspan></text>
</svg>
</body></html>
